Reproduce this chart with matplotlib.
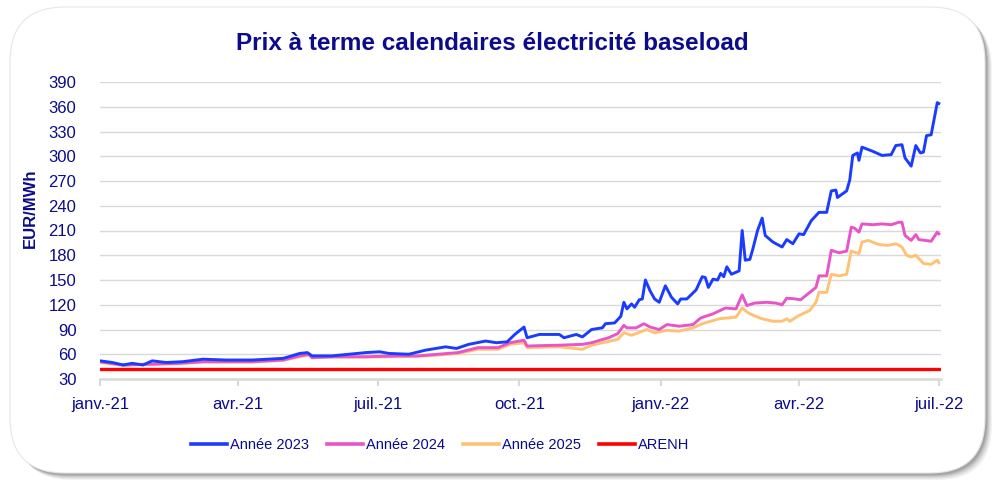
import numpy as np
import pandas as pd
import matplotlib
matplotlib.use("Agg")
import matplotlib.pyplot as plt
import matplotlib.dates as mdates
from matplotlib.patches import FancyBboxPatch
from matplotlib.transforms import IdentityTransform

# --- data (EUR/MWh) ---
dates_2023 = ['2021-01-01', '2021-01-09', '2021-01-16', '2021-01-22', '2021-01-29', '2021-02-04',
              '2021-02-13', '2021-02-24', '2021-03-09', '2021-03-24', '2021-04-10', '2021-04-30',
              '2021-05-04', '2021-05-11', '2021-05-16', '2021-05-19', '2021-06-01', '2021-06-12',
              '2021-06-23', '2021-07-02', '2021-07-08', '2021-07-21', '2021-08-01', '2021-08-14',
              '2021-08-21', '2021-08-29', '2021-09-09', '2021-09-16', '2021-09-23', '2021-09-28',
              '2021-10-04', '2021-10-06', '2021-10-14', '2021-10-27', '2021-10-30', '2021-11-07',
              '2021-11-11', '2021-11-17', '2021-11-24', '2021-11-26', '2021-12-02', '2021-12-06',
              '2021-12-08', '2021-12-10', '2021-12-13', '2021-12-15', '2021-12-18', '2021-12-20',
              '2021-12-22', '2021-12-25', '2021-12-28', '2021-12-31', '2022-01-04', '2022-01-08',
              '2022-01-12', '2022-01-14', '2022-01-18', '2022-01-24', '2022-01-28', '2022-01-30',
              '2022-02-01', '2022-02-04', '2022-02-07', '2022-02-09', '2022-02-11', '2022-02-13',
              '2022-02-16', '2022-02-21', '2022-02-23', '2022-02-25', '2022-02-28', '2022-03-02',
              '2022-03-05', '2022-03-08', '2022-03-10', '2022-03-15', '2022-03-21', '2022-03-24',
              '2022-03-28', '2022-04-01', '2022-04-04', '2022-04-09', '2022-04-14', '2022-04-19',
              '2022-04-22', '2022-04-25', '2022-04-26', '2022-05-02', '2022-05-04', '2022-05-06',
              '2022-05-09', '2022-05-10', '2022-05-12', '2022-05-19', '2022-05-25', '2022-05-31',
              '2022-06-03', '2022-06-07', '2022-06-09', '2022-06-13', '2022-06-16', '2022-06-19',
              '2022-06-21', '2022-06-23', '2022-06-26', '2022-06-30', '2022-07-01']
prix_2023 = [52, 50, 47, 49, 47, 52,
             50, 51, 54, 53, 53, 55,
             57, 61, 62, 58, 58, 60,
             62, 63, 61, 60, 65, 69,
             67, 72, 76, 74, 75, 84,
             93, 80, 84, 84, 80, 84,
             81, 90, 92, 97, 98, 106,
             123, 115, 121, 117, 126, 127,
             150, 137, 127, 123, 143, 129,
             121, 127, 127, 138, 154, 153,
             141, 151, 150, 158, 154, 166,
             157, 161, 210, 174, 175, 188,
             210, 225, 204, 196, 190, 199,
             194, 206, 205, 222, 232, 232,
             258, 259, 250, 258, 271, 301,
             304, 295, 311, 306, 301, 302,
             313, 314, 298, 288, 313, 304,
             305, 325, 326, 365, 364]

dates_2024 = ['2021-01-01', '2021-01-16', '2021-02-02', '2021-02-21', '2021-03-09', '2021-04-10',
              '2021-04-30', '2021-05-11', '2021-05-17', '2021-05-19', '2021-06-01', '2021-06-23',
              '2021-07-14', '2021-07-27', '2021-08-09', '2021-08-22', '2021-09-04', '2021-09-17',
              '2021-09-25', '2021-10-04', '2021-10-06', '2021-10-27', '2021-11-11', '2021-11-17',
              '2021-11-28', '2021-12-04', '2021-12-08', '2021-12-10', '2021-12-16', '2021-12-21',
              '2021-12-25', '2021-12-31', '2022-01-05', '2022-01-13', '2022-01-22', '2022-01-27',
              '2022-02-04', '2022-02-12', '2022-02-19', '2022-02-23', '2022-02-26', '2022-03-03',
              '2022-03-11', '2022-03-17', '2022-03-21', '2022-03-24', '2022-03-30', '2022-04-02',
              '2022-04-08', '2022-04-12', '2022-04-14', '2022-04-19', '2022-04-22', '2022-04-27',
              '2022-05-02', '2022-05-05', '2022-05-07', '2022-05-10', '2022-05-12', '2022-05-19',
              '2022-05-25', '2022-05-31', '2022-06-05', '2022-06-07', '2022-06-09', '2022-06-13',
              '2022-06-16', '2022-06-18', '2022-06-26', '2022-06-30', '2022-07-01']
prix_2024 = [51, 47, 48, 49, 51, 51,
             53, 58, 60, 56, 57, 57,
             58, 58, 60, 62, 68, 68,
             74, 77, 70, 71, 72, 74,
             80, 85, 95, 92, 92, 97,
             93, 90, 96, 94, 96, 104,
             109, 116, 115, 132, 119, 122,
             123, 122, 120, 128, 127, 126,
             135, 141, 155, 155, 186, 183,
             185, 214, 213, 208, 218, 217,
             218, 217, 220, 220, 204, 198,
             205, 199, 197, 208, 206]

dates_2025 = ['2021-01-01', '2021-01-16', '2021-02-02', '2021-02-21', '2021-03-09', '2021-04-10',
              '2021-04-30', '2021-05-11', '2021-05-17', '2021-05-19', '2021-06-01', '2021-06-23',
              '2021-07-14', '2021-07-27', '2021-08-09', '2021-08-22', '2021-09-04', '2021-09-17',
              '2021-09-25', '2021-10-04', '2021-10-06', '2021-10-27', '2021-11-11', '2021-11-17',
              '2021-12-04', '2021-12-08', '2021-12-13', '2021-12-23', '2021-12-28', '2022-01-05',
              '2022-01-13', '2022-01-22', '2022-01-28', '2022-02-08', '2022-02-19', '2022-02-23',
              '2022-02-27', '2022-03-05', '2022-03-08', '2022-03-15', '2022-03-21', '2022-03-24',
              '2022-03-26', '2022-04-01', '2022-04-08', '2022-04-12', '2022-04-14', '2022-04-19',
              '2022-04-22', '2022-04-27', '2022-05-02', '2022-05-05', '2022-05-10', '2022-05-12',
              '2022-05-16', '2022-05-23', '2022-05-29', '2022-06-03', '2022-06-07', '2022-06-10',
              '2022-06-13', '2022-06-16', '2022-06-21', '2022-06-26', '2022-06-30', '2022-07-01']
prix_2025 = [50, 46.5, 47.5, 48.5, 50.5, 50.5,
             52.5, 57, 59, 55.5, 56.5, 56.5,
             57, 57.5, 59, 61, 66, 66,
             72, 74, 68, 69, 66, 71,
             78, 86, 83, 90, 86, 89,
             88, 92, 97, 103, 105, 116,
             110, 105, 103, 100, 100, 103,
             100, 107, 113, 123, 135, 135,
             157, 155, 157, 185, 182, 196,
             198, 193, 192, 194, 190, 180,
             178, 180, 170, 169, 174, 171]

arenh = 42
series_labels = ['Année 2023', 'Année 2024', 'Année 2025', 'ARENH']
tick_dates = ['2021-01-01', '2021-04-01', '2021-07-01', '2021-10-01', '2022-01-01', '2022-04-01', '2022-07-01']
tick_labels = ['janv.-21', 'avr.-21', 'juil.-21', 'oct.-21', 'janv.-22', 'avr.-22', 'juil.-22']
y_ticks = list(range(30, 391, 30))

navy = '#0b0b8c'
plt.rcParams['font.family'] = ['Liberation Sans', 'DejaVu Sans']

fig = plt.figure(figsize=(9.95, 4.88), dpi=100)
fig.patch.set_facecolor('white')

# rounded card with soft shadow (pixel coordinates)
for i, a in enumerate([0.05, 0.06, 0.08, 0.10, 0.12]):
    off = 7 - i * 1.2
    sh = FancyBboxPatch((10 + off, 15 - off), 975, 466,
                        boxstyle="round,pad=0,rounding_size=55",
                        transform=IdentityTransform(), facecolor='black',
                        edgecolor='none', alpha=a, zorder=0)
    fig.patches.append(sh)
card = FancyBboxPatch((10, 15), 975, 466, boxstyle="round,pad=0,rounding_size=55",
                      transform=IdentityTransform(), facecolor='white',
                      edgecolor='#e6e6e6', linewidth=0.8, zorder=1)
fig.patches.append(card)

ax = fig.add_axes([100 / 995, 109 / 488, 841 / 995, 297 / 488])
ax.set_facecolor('none')
ax.set_zorder(2)

d23 = pd.to_datetime(dates_2023)
d24 = pd.to_datetime(dates_2024)
d25 = pd.to_datetime(dates_2025)
x0 = pd.Timestamp('2021-01-01')
x1 = pd.Timestamp('2022-07-02 10:00')

ax.plot(d23, prix_2023, color='#1a3cff', lw=2.1, label=series_labels[0], zorder=5)
ax.plot(d24, prix_2024, color='#e855c8', lw=2.1, label=series_labels[1], zorder=4)
ax.plot(d25, prix_2025, color='#ffc274', lw=2.1, label=series_labels[2], zorder=3)
ax.plot([x0, x1], [arenh, arenh], color='#ff0000', lw=2.4, label=series_labels[3], zorder=2)

ax.set_xlim(x0, x1)
ax.set_ylim(30, 390)
ax.set_yticks(y_ticks)
ax.grid(axis='y', color='#d9d9d9', lw=1)
ax.set_axisbelow(True)

ax.set_xticks(pd.to_datetime(tick_dates))
ax.set_xticklabels(tick_labels)

for s in ['top', 'right', 'left']:
    ax.spines[s].set_visible(False)
ax.spines['bottom'].set_color('#d9d9d9')
ax.spines['bottom'].set_linewidth(1.8)
ax.tick_params(axis='x', colors='#d9d9d9', length=5, width=1.5, pad=8, labelsize=12, labelcolor=navy)
ax.tick_params(axis='y', length=0, pad=17, labelsize=12, labelcolor=navy)

ax.set_ylabel('EUR/MWh', color=navy, fontsize=12, fontweight='bold')
ax.yaxis.set_label_coords(-0.074, 0.574)

fig.text(492 / 995, 1 - 43 / 488, 'Prix à terme calendaires électricité baseload',
         ha='center', va='center', fontsize=17.5, fontweight='bold', color=navy, zorder=3)

leg = fig.legend(loc='center left', bbox_to_anchor=(191 / 995, 1 - 445 / 488), ncol=4,
                 frameon=False, fontsize=10.5, handlelength=2.5, handletextpad=0.2,
                 columnspacing=1.2, borderpad=0, borderaxespad=0)
for t in leg.get_texts():
    t.set_color(navy)
for h in leg.get_lines():
    h.set_linewidth(2.6)
leg.set_zorder(3)

fig.savefig('out.png', dpi=100, facecolor='white')
